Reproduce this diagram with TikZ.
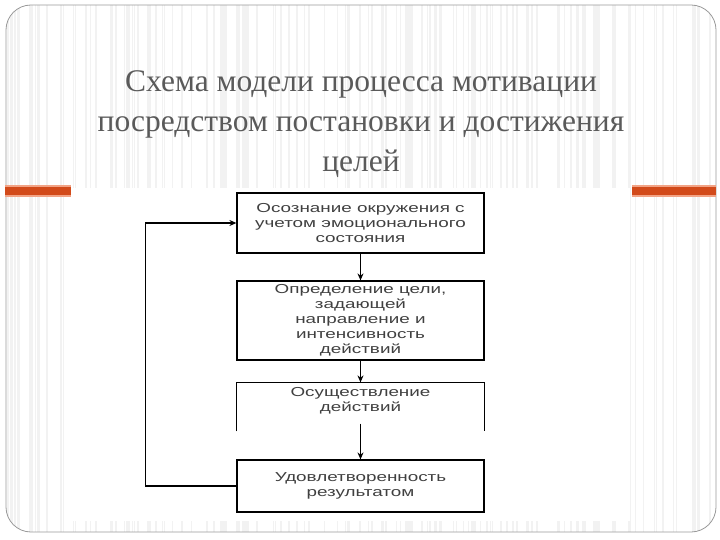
\documentclass[tikz,border=0pt]{standalone}
\usepackage{fontspec}
\setmainfont{Liberation Serif}
\newfontfamily\boxfont[FakeStretch=1.45]{Liberation Sans}
\usetikzlibrary{arrows.meta}
\definecolor{slidered}{HTML}{D24A1A}
\definecolor{slidepink}{HTML}{F2A385}
\definecolor{titlegray}{HTML}{5A5A5A}
\begin{document}
\begin{tikzpicture}[x=1pt, y=-1pt, >={Stealth[length=7pt, width=6pt]},
  stage/.style={draw, line width=1.2pt, rectangle, align=center, minimum width=247pt, inner sep=0pt,
    text=black!75, font=\boxfont\fontsize{13}{15}\selectfont}]
\useasboundingbox (0,0) rectangle (720,540);
% slide background
\begin{scope}
\clip[rounded corners=25pt] (6,5) rectangle (716,532);
\pgfmathsetseed{11}
\foreach \i in {1,...,160}{
  \pgfmathsetmacro\sx{6+710*rnd}
  \pgfmathsetmacro\sw{0.5+2*rnd}
  \fill[black!5] (\sx,5) rectangle ++(\sw,527);
}
\end{scope}
\fill[white] (70,188) rectangle (630,521);
\draw[black!40, line width=0.8pt, rounded corners=25pt] (6,5) rectangle (716,532);
\fill[slidepink] (5,185) rectangle (71,197);
\fill[slidered] (5,187) rectangle (71,195);
\fill[slidepink] (632,185) rectangle (716,197);
\fill[slidered] (632,187) rectangle (716,195);

\node[titlegray, font=\fontsize{31.5}{40}\selectfont, align=center] (title) at (361,124) {Схема модели процесса мотивации\\посредством постановки и достижения\\целей};

\node[stage, minimum height=60pt] (a) at (360.5,223) {Осознание окружения с\\учетом эмоционального\\состояния};
\node[stage, minimum height=79pt] (b) at (360.5,320.5) {Определение цели,\\задающей\\направление и\\интенсивность\\действий};
\node[stage, draw=none, minimum height=36pt] (c) at (360.5,401) {Осуществление\\действий};
\draw[line width=1.2pt] ([yshift=-49pt]c.north west) |- (c.north east) -- ([yshift=-49pt]c.north east);
\node[stage, minimum height=52pt] (d) at (360.5,486) {Удовлетворенность\\результатом};

\draw[->, line width=1.2pt] (a) -- (b);
\draw[->, line width=1.2pt] (b) -- (c);
\draw[->, line width=1.2pt] ([yshift=-4pt]c.south) -- (d);
\draw[->, line width=1.2pt] (d.west) -- ++(-91,0) |- (a.west);
\end{tikzpicture}
\end{document}
